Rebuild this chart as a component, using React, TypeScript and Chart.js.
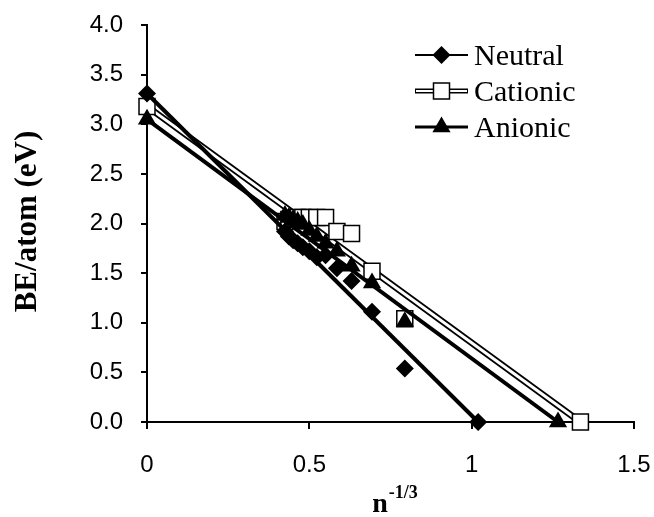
import React, { useEffect, useRef } from 'react';
import { Chart, registerables } from 'chart.js';

Chart.register(...registerables);

// ---------- data ----------
const clusterX = [0.425, 0.437, 0.45, 0.464, 0.48, 0.5, 0.523, 0.55, 0.585, 0.63, 0.693, 0.794];
const neutralBE = [1.92, 1.87, 1.83, 1.8, 1.76, 1.72, 1.66, 1.68, 1.55, 1.42, 1.11, 0.54];
const cationicBE = [2.02, 2.04, 2.05, 2.06, 2.06, 2.06, 2.06, 2.06, 1.92, 1.9, 1.52, 1.04];
const anionicBE = [2.08, 2.06, 2.04, 2.02, 1.99, 1.93, 1.87, 1.8, 1.72, 1.57, 1.4, 1.01];

const neutralFitX = [0, 1.02];
const neutralFitY = [3.31, 0];
const cationicFitX = [0, 1.335];
const cationicFitY = [3.18, 0];
const anionicFitX = [0, 1.266];
const anionicFitY = [3.05, 0];

const seriesNames = ['Neutral', 'Cationic', 'Anionic'];
const xTickValues = [0, 0.5, 1, 1.5];
const xTickLabels = ['0', '0.5', '1', '1.5'];
const yTickValues = [0, 0.5, 1, 1.5, 2, 2.5, 3, 3.5, 4];
const yTickLabels = ['0.0', '0.5', '1.0', '1.5', '2.0', '2.5', '3.0', '3.5', '4.0'];
const yTitle = 'BE/atom (eV)';
const xTitleBase = 'n';
const xTitleSup = '-1/3';

const pts = (xs: number[], ys: number[]) => xs.map((x, i) => ({ x, y: ys[i] }));

function drawMarker(ctx: CanvasRenderingContext2D, kind: string, x: number, y: number) {
  ctx.save();
  ctx.beginPath();
  if (kind === 'diamond') {
    const r = 9;
    ctx.moveTo(x, y - r);
    ctx.lineTo(x + r, y);
    ctx.lineTo(x, y + r);
    ctx.lineTo(x - r, y);
    ctx.closePath();
    ctx.fillStyle = '#000';
    ctx.fill();
  } else if (kind === 'square') {
    const s = 8;
    ctx.rect(x - s, y - s, 2 * s, 2 * s);
    ctx.fillStyle = '#fff';
    ctx.fill();
    ctx.lineWidth = 1.5;
    ctx.strokeStyle = '#000';
    ctx.stroke();
  } else {
    const r = 10.5;
    ctx.moveTo(x, y - r);
    ctx.lineTo(x + r * 0.866, y + r * 0.5);
    ctx.lineTo(x - r * 0.866, y + r * 0.5);
    ctx.closePath();
    ctx.fillStyle = '#000';
    ctx.fill();
  }
  ctx.restore();
}

const decorPlugin = {
  id: 'decor',
  afterDraw(chart: any) {
    const ctx: CanvasRenderingContext2D = chart.ctx;
    const area = chart.chartArea;
    ctx.save();
    // legend
    const kinds = ['diamond', 'square', 'triangle'];
    const rowY = [55, 91, 127];
    const x0 = 415;
    const x1 = 468;
    seriesNames.forEach((name, i) => {
      const y = rowY[i];
      if (i === 1) {
        ctx.strokeStyle = '#000';
        ctx.lineWidth = 5;
        ctx.beginPath();
        ctx.moveTo(x0, y);
        ctx.lineTo(x1, y);
        ctx.stroke();
        ctx.strokeStyle = '#fff';
        ctx.lineWidth = 2;
        ctx.beginPath();
        ctx.moveTo(x0 + 1, y);
        ctx.lineTo(x1 - 1, y);
        ctx.stroke();
      } else {
        ctx.strokeStyle = '#000';
        ctx.lineWidth = i === 0 ? 2 : 3;
        ctx.beginPath();
        ctx.moveTo(x0, y);
        ctx.lineTo(x1, y);
        ctx.stroke();
      }
      drawMarker(ctx, kinds[i], (x0 + x1) / 2, y);
      ctx.fillStyle = '#000';
      ctx.font = '30px "Liberation Serif", "Times New Roman", serif';
      ctx.textAlign = 'left';
      ctx.textBaseline = 'alphabetic';
      ctx.fillText(name, 474, y + 10);
    });

    // y title
    ctx.save();
    ctx.translate(36, (area.top + area.bottom) / 2 - 2);
    ctx.rotate(-Math.PI / 2);
    ctx.font = 'bold 31px "Liberation Serif", "Times New Roman", serif';
    ctx.textAlign = 'center';
    ctx.textBaseline = 'alphabetic';
    ctx.fillStyle = '#000';
    ctx.fillText(yTitle, 0, 0);
    ctx.restore();

    // x title with superscript
    const baseFont = 'bold 28px "Liberation Serif", "Times New Roman", serif';
    const supFont = 'bold 18px "Liberation Serif", "Times New Roman", serif';
    ctx.font = baseFont;
    const wb = ctx.measureText(xTitleBase).width;
    ctx.font = supFont;
    const ws = ctx.measureText(xTitleSup).width;
    const cx = (area.left + area.right) / 2 + 4;
    const startX = cx - (wb + ws) / 2;
    ctx.fillStyle = '#000';
    ctx.textAlign = 'left';
    ctx.textBaseline = 'alphabetic';
    ctx.font = baseFont;
    ctx.fillText(xTitleBase, startX, 512);
    ctx.font = supFont;
    ctx.fillText(xTitleSup, startX + wb + 1, 498);
    ctx.restore();
  },
};

export default function App() {
  const ref = useRef<HTMLCanvasElement | null>(null);

  useEffect(() => {
    if (!ref.current) return;
    const tickFont = { family: '"Liberation Sans", Arial, sans-serif', size: 24 };
    const chart = new Chart(ref.current, {
      type: 'scatter',
      data: {
        datasets: [
          {
            label: 'cationic-outline',
            data: pts(cationicFitX, cationicFitY),
            showLine: true,
            borderColor: '#000',
            borderWidth: 6.5,
            pointRadius: 0,
            order: 10,
            clip: false,
          },
          {
            label: 'cationic-inner',
            data: pts(cationicFitX, cationicFitY),
            showLine: true,
            borderColor: '#fff',
            borderWidth: 3,
            pointRadius: 0,
            order: 9,
            clip: false,
          },
          {
            label: seriesNames[1],
            data: [...pts(cationicFitX, cationicFitY), ...pts(clusterX, cationicBE)],
            showLine: false,
            pointStyle: 'rect',
            pointRadius: 11.3,
            backgroundColor: '#fff',
            borderColor: '#000',
            borderWidth: 1.5,
            order: 8,
            clip: false,
          },
          {
            label: 'neutral-line',
            data: pts(neutralFitX, neutralFitY),
            showLine: true,
            borderColor: '#000',
            borderWidth: 4,
            pointRadius: 0,
            order: 6,
            clip: false,
          },
          {
            label: seriesNames[0],
            data: [...pts(neutralFitX, neutralFitY), ...pts(clusterX, neutralBE)],
            showLine: false,
            pointStyle: 'rectRot',
            pointRadius: 9,
            backgroundColor: '#000',
            borderColor: '#000',
            borderWidth: 0,
            order: 5,
            clip: false,
          },
          {
            label: 'anionic-line',
            data: pts(anionicFitX, anionicFitY),
            showLine: true,
            borderColor: '#000',
            borderWidth: 4,
            pointRadius: 0,
            order: 4,
            clip: false,
          },
          {
            label: seriesNames[2],
            data: [...pts(anionicFitX, anionicFitY), ...pts(clusterX, anionicBE)],
            showLine: false,
            pointStyle: 'triangle',
            pointRadius: 10.5,
            backgroundColor: '#000',
            borderColor: '#000',
            borderWidth: 0,
            order: 3,
            clip: false,
          },
        ],
      },
      options: {
        animation: false,
        responsive: true,
        maintainAspectRatio: false,
        layout: { padding: { left: 0, right: 20, top: 25, bottom: 0 } },
        plugins: {
          legend: { display: false },
          tooltip: { enabled: false },
          title: { display: false },
        },
        scales: {
          x: {
            type: 'linear',
            min: 0,
            max: 1.5,
            afterBuildTicks: (scale: any) => {
              scale.ticks = xTickValues.map((v) => ({ value: v }));
            },
            afterFit: (scale: any) => {
              scale.height = 95;
              scale.paddingLeft = 0;
              scale.paddingRight = 0;
            },
            ticks: {
              color: '#000',
              font: tickFont,
              padding: 22,
              maxRotation: 0,
              autoSkip: false,
              callback: (_v: any, i: number) => xTickLabels[i],
            },
            grid: {
              drawOnChartArea: false,
              drawTicks: true,
              tickLength: 7,
              color: '#000',
              lineWidth: 2,
            },
            border: { color: '#000', width: 2 },
          },
          y: {
            type: 'linear',
            min: 0,
            max: 4,
            afterBuildTicks: (scale: any) => {
              scale.ticks = yTickValues.map((v) => ({ value: v }));
            },
            afterFit: (scale: any) => {
              scale.width = 147;
              scale.paddingTop = 0;
              scale.paddingBottom = 0;
            },
            ticks: {
              color: '#000',
              font: tickFont,
              padding: 18,
              autoSkip: false,
              callback: (_v: any, i: number) => yTickLabels[i],
            },
            grid: {
              drawOnChartArea: false,
              drawTicks: true,
              tickLength: 6,
              color: '#000',
              lineWidth: 2,
            },
            border: { color: '#000', width: 2 },
          },
        },
      },
      plugins: [decorPlugin],
    } as any);
    return () => chart.destroy();
  }, []);

  return (
    <div style={{ position: 'absolute', left: 0, top: 0, width: 654, height: 517, background: '#fff' }}>
      <canvas ref={ref} />
    </div>
  );
}
